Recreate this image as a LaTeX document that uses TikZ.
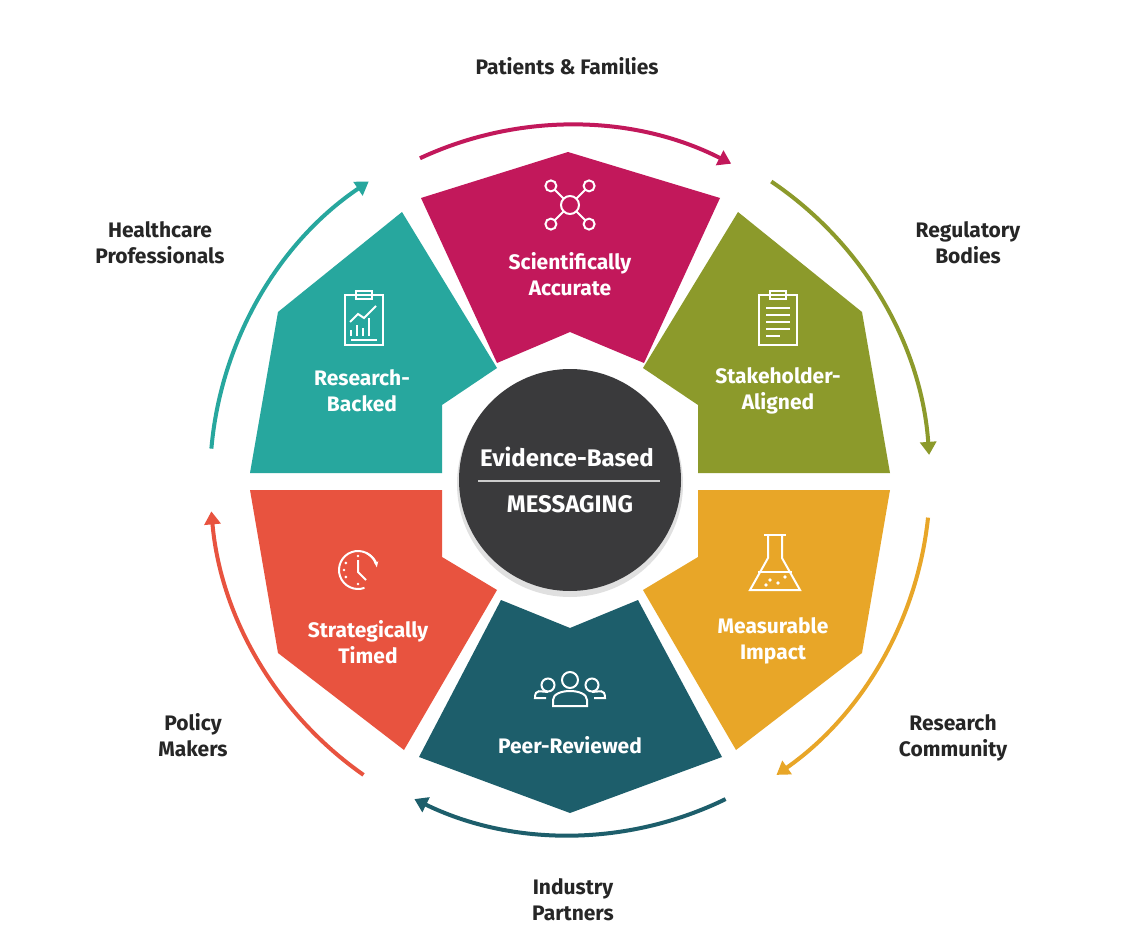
\documentclass[tikz,border=0pt]{standalone}
\usepackage{fontspec}
\setmainfont{Fira Sans}
\usetikzlibrary{arrows.meta,calc}
\definecolor{cmag}{HTML}{C2185B}
\definecolor{coli}{HTML}{8C9A2B}
\definecolor{cora}{HTML}{E8A628}
\definecolor{cdte}{HTML}{1D5E6B}
\definecolor{cred}{HTML}{E8533F}
\definecolor{ctea}{HTML}{27A79E}
\definecolor{ccen}{HTML}{3A3A3C}
\tikzset{
 segtxt/.style={text=white,font=\fontsize{21}{26}\selectfont\bfseries,align=center},
 lbl/.style={text=black!85,font=\fontsize{21}{26}\selectfont\bfseries,align=center},
 arr/.style={line width=4pt,-{Triangle[length=13pt,width=16pt]}},
 ico/.style={draw=white,line width=2pt,fill=none}
}
\begin{document}
\begin{tikzpicture}[x=1pt,y=-1pt]
\useasboundingbox (0,0) rectangle (1136,928);
\fill[white] (0,0) rectangle (1136,928);
\coordinate (C) at (570,480);
% segments
\fill[cmag] (421,198)--(568,152)--(720,198)--(644,363)--(570,332)--(497,363)--cycle;
\fill[ctea] (402,212)--(278,312)--(250,473)--(442,473)--(442,405)--(497,368)--cycle;
\fill[coli] (738,212)--(862,312)--(890,473)--(698,473)--(698,405)--(643,368)--cycle;
\fill[cred] (250,490)--(442,490)--(442,557)--(497,590)--(404,750)--(278,653)--cycle;
\fill[cora] (890,490)--(698,490)--(698,557)--(643,590)--(736,750)--(862,653)--cycle;
\fill[cdte] (501,600)--(570,628)--(638,600)--(722,757)--(570,813)--(419,757)--cycle;
% center
\fill[black!12] (570,484) circle (113);
\node[circle,fill=ccen,minimum size=222pt,inner sep=0] (cen) at (C) {};
\node[text=white,font=\fontsize{24}{28}\selectfont\bfseries] (t1) at (567,457) {Evidence-Based};
\draw[white!80!black,line width=1.2pt] (478,481)--(660,481);
\node[text=white,font=\fontsize{24}{28}\selectfont\bfseries] (t2) at (570,504) {MESSAGING};
% segment texts
\node[segtxt] (s1) at (570,274) {Scientifically\\Accurate};
\node[segtxt] (s2) at (362,391) {Research-\\Backed};
\node[segtxt] (s3) at (778,391) {Stakeholder-\\Aligned};
\node[segtxt] (s4) at (368,642) {Strategically\\Timed};
\node[segtxt] (s5) at (773,641) {Measurable\\Impact};
\node[segtxt] (s6) at (570,745) {Peer-Reviewed};
% icons
\begin{scope}[ico]
 \draw (570,205) circle (9);
 \foreach \a/\d in {45/27,135/27,-45/27,-135/27}{\draw (570,205) ++(\a:9) -- ++(\a:{\d-15}); \draw (570,205) ++(\a:\d) circle (5.5);}
 \draw (345,295) rectangle (383,345); \draw (356,291) rectangle (372,299);
 \draw (351,336)--(351,330) (357,336)--(357,325) (363,336)--(363,328) (369,336)--(369,318);
 \draw (350,322)--(358,314)--(364,318)--(376,306); \draw (351,340)--(377,340);
 \draw (759,295) rectangle (797,345); \draw (770,291) rectangle (786,299);
 \foreach \y in {308,315,322,329}{\draw (766,\y)--(790,\y);} \draw (766,336)--(780,336);
 % clock
 \draw (358,570) ++(-20:19) arc[start angle=-20,end angle=-290,radius=19];
 \draw[-{Stealth[length=6pt]}] (358,570) ++(-62:19) arc[start angle=-62,end angle=-8,radius=19];
 \draw (358,560)--(358,572)--(366,580);
 \foreach \a in {90,150,180,210,270}{\fill[white] (358,570) ++(\a:14) circle (1.4);}
 % flask
 \draw (768,535)--(768,558)--(750,590)--(800,590)--(782,558)--(782,535); \draw (764,535)--(786,535);
 \draw (758,572)--(792,572);
 \foreach \p in {(770,580),(778,583),(785,577),(766,585)}{\fill[white] \p circle (1.8);}
 % people
 \draw (570,680) circle (8); \draw (553,700)..controls (553,688) and (587,688)..(587,700)--(587,706)--(553,706)--cycle;
 \draw (548,685) circle (6.5); \draw (592,685) circle (6.5);
 \draw (546,698)--(535,698)..controls (535,688) and (541,692)..(548,692);
 \draw (594,698)--(605,698)..controls (605,688) and (599,692)..(592,692);
\end{scope}
% arrows
\draw[arr,cmag] (C) ++(-115:355) arc[start angle=-115,end angle=-63,radius=355];
\draw[arr,coli] (C) ++(-56:360) arc[start angle=-56,end angle=-4,radius=360];
\draw[arr,cora] (C) ++(6:360) arc[start angle=6,end angle=55,radius=360];
\draw[arr,cdte] (C) ++(64:355) arc[start angle=64,end angle=116,radius=355];
\draw[arr,cred] (C) ++(125:360) arc[start angle=125,end angle=175,radius=360];
\draw[arr,ctea] (C) ++(-175:360) arc[start angle=-175,end angle=-124,radius=360];
% labels
\node[lbl] (l1) at (567,66) {Patients \& Families};
\node[lbl] (l2) at (968,243) {Regulatory\\Bodies};
\node[lbl] (l3) at (953,738) {Research\\Community};
\node[lbl] (l4) at (573,900) {Industry\\Partners};
\node[lbl] (l5) at (193,735) {Policy\\Makers};
\node[lbl] (l6) at (160,243) {Healthcare\\Professionals};
\end{tikzpicture}
\end{document}
